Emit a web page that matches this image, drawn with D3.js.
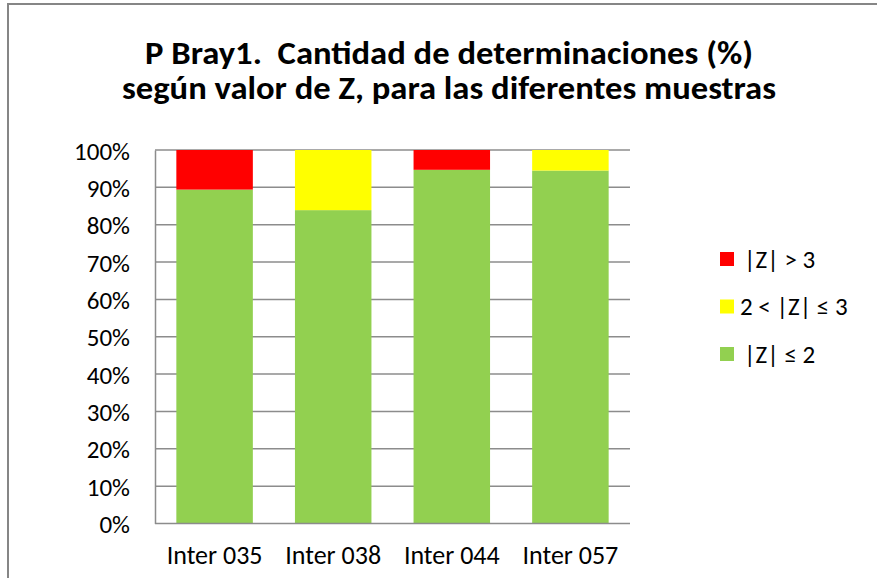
<!DOCTYPE html>
<html>
<head>
<meta charset="utf-8">
<script src="https://cdn.jsdelivr.net/npm/d3@7"></script>
<style>
  body { margin: 0; background: #fff; }
  svg text { font-family: Carlito, Calibri, "Open Sans", "Liberation Sans", sans-serif; fill: #000; }
</style>
</head>
<body>
<div id="chart"></div>
<script>
// data (percent of determinations)
const samples = ['Inter 035', 'Inter 038', 'Inter 044', 'Inter 057'];
const seriesNames = ['|Z| ≤ 2', '2 < |Z| ≤ 3', '|Z| > 3'];
const seriesColors = ['#92D050', '#FFFF00', '#FF0000'];
const zLe2 = [89.4, 83.9, 94.7, 94.5];
const z2to3 = [0, 16.1, 0, 5.5];
const zGt3 = [10.6, 0, 5.3, 0];
const yTicks = [0, 10, 20, 30, 40, 50, 60, 70, 80, 90, 100];
const titleLines = ['P Bray1.  Cantidad de determinaciones (%)', 'según valor de Z, para las diferentes muestras'];

const W = 877, H = 578;
const plot = { left: 155, right: 630, top: 150, bottom: 523.5 };
const labelSize = 25;

const svg = d3.select('#chart').append('svg')
  .attr('width', W)
  .attr('height', H);

// outer chart border (runs off the right and bottom edge)
svg.append('rect')
  .attr('x', 8).attr('y', 4)
  .attr('width', W + 20).attr('height', H + 20)
  .attr('fill', '#fff')
  .attr('stroke', '#868686')
  .attr('stroke-width', 2);

// title: one text, two lines, stretched to the widths seen in the reference
const titleWidths = [608, 654];
const titleY = [64, 99];
const title = svg.append('text')
  .attr('text-anchor', 'middle')
  .attr('font-size', 32)
  .attr('font-weight', 'bold')
  .style('white-space', 'pre');
titleLines.forEach(function(t, i) {
  title.append('tspan')
    .attr('x', 449)
    .attr('y', titleY[i])
    .attr('textLength', titleWidths[i])
    .attr('lengthAdjust', 'spacingAndGlyphs')
    .text(t);
});

const x = d3.scaleBand()
  .domain(samples)
  .range([plot.left, plot.right])
  .paddingInner(0.355)
  .paddingOuter(0.18);

const y = d3.scaleLinear()
  .domain([0, 100])
  .range([plot.bottom, plot.top]);

// gridlines
svg.append('g').selectAll('line')
  .data(yTicks.filter(function(d) { return d > 0; }))
  .enter().append('line')
  .attr('x1', plot.left).attr('x2', plot.right)
  .attr('y1', function(d) { return y(d); })
  .attr('y2', function(d) { return y(d); })
  .attr('stroke', '#8c8c8c')
  .attr('stroke-width', 1.5);

// stacked bars
const rows = samples.map(function(s, i) {
  return { sample: s, a: zLe2[i], b: z2to3[i], c: zGt3[i] };
});
const stack = d3.stack().keys(['a', 'b', 'c']);
const layers = stack(rows);

svg.append('g').selectAll('g')
  .data(layers)
  .enter().append('g')
  .attr('fill', function(d, i) { return seriesColors[i]; })
  .selectAll('rect')
  .data(function(d) { return d; })
  .enter().append('rect')
  .attr('x', function(d) { return x(d.data.sample); })
  .attr('width', x.bandwidth())
  .attr('y', function(d) { return y(d[1]); })
  .attr('height', function(d) { return y(d[0]) - y(d[1]); });

// axes (no tick marks, just labels)
const yAxis = d3.axisLeft(y)
  .tickValues(yTicks)
  .tickFormat(function(d) { return d + '%'; })
  .tickSize(0)
  .tickPadding(25);

const gy = svg.append('g')
  .attr('transform', 'translate(' + plot.left + ',0)')
  .call(yAxis);
gy.select('.domain').attr('stroke', '#8c8c8c').attr('stroke-width', 1.5);
gy.attr('font-size', labelSize).attr('font-family', null);
gy.selectAll('.tick text').attr('dy', '0.36em');

svg.append('line')
  .attr('x1', plot.left).attr('x2', plot.right)
  .attr('y1', plot.bottom).attr('y2', plot.bottom)
  .attr('stroke', '#8c8c8c')
  .attr('stroke-width', 1.5);

svg.append('g').selectAll('text')
  .data(samples)
  .enter().append('text')
  .attr('x', function(d) { return x(d) + x.bandwidth() / 2; })
  .attr('y', 564)
  .attr('text-anchor', 'middle')
  .attr('font-size', 26)
  .text(function(d) { return d; });

// legend (top entry is the top series)
const legendItems = [2, 1, 0];
const legend = svg.append('g').selectAll('g')
  .data(legendItems)
  .enter().append('g')
  .attr('transform', function(d, i) { return 'translate(720,' + (259 + i * 47.5) + ')'; });

legend.append('rect')
  .attr('x', 0).attr('y', -7)
  .attr('width', 14).attr('height', 14)
  .attr('fill', function(d) { return seriesColors[d]; });

legend.append('text')
  .attr('x', function(d) { return d === 1 ? 20 : 24; })
  .attr('y', 0)
  .attr('dy', '0.35em')
  .attr('font-size', labelSize)
  .text(function(d) { return seriesNames[d]; });
</script>
</body>
</html>
